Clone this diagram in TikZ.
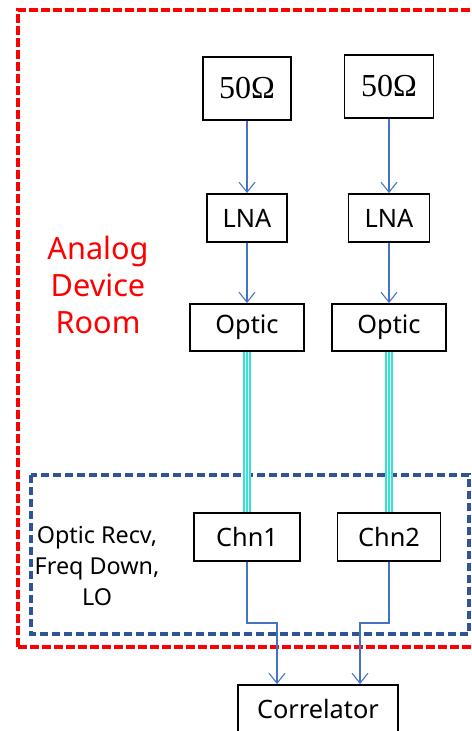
\documentclass[tikz,border=0pt]{standalone}
\usepackage{fontspec}
\setmainfont{Noto Sans}
\newfontfamily\ohmfont{Liberation Serif}
\usetikzlibrary{arrows.meta}
\definecolor{linkblue}{HTML}{4472C4}
\definecolor{roomred}{HTML}{FF0000}
\definecolor{recvblue}{HTML}{2F5597}
\definecolor{fibrecyan}{HTML}{33E3D6}
\begin{document}
\begin{tikzpicture}[x=0.75pt,y=-0.75pt,
    blk/.style={draw=black,line width=1.4pt,inner sep=0pt,font=\fontsize{19}{23}\selectfont},
    sig/.style={draw=linkblue,line width=0.8pt,-{Straight Barb[length=7.5pt,width=12pt,line width=0.8pt]}},
    fibreline/.style={preaction={draw=fibrecyan,line width=5.6pt},draw=white,line width=0.9pt,double=fibrecyan,double distance=1.4pt},
    tag/.style={align=center}]
  \useasboundingbox (0,0) rectangle (471,731);
  % rooms
  \draw[roomred,line width=2.4pt,dash pattern=on 6.5pt off 2.5pt] (18,647) -- (18,10) -- (480,10);
  \draw[roomred,line width=2.4pt,dash pattern=on 6.5pt off 2.5pt] (18,647) -- (480,647);
  \draw[recvblue,line width=2.3pt,dash pattern=on 6pt off 3pt] (31,475) rectangle (469,634);
  \node[tag,text=roomred,font=\fontsize{23}{28}\selectfont] (room) at (98,285) {Analog\\Device\\Room};
  \node[tag,font=\fontsize{17.5}{23.5}\selectfont] (recv) at (97,566) {Optic Recv,\\Freq Down,\\LO};
  % chain 1
  \node[blk,minimum width=66pt,minimum height=47.25pt,font=\fontsize{24}{28}\ohmfont] (r1) at (247,88.5) {50Ω};
  \node[blk,minimum width=60pt,minimum height=36pt] (l1) at (247,218) {LNA};
  \node[blk,minimum width=85.5pt,minimum height=35.25pt] (o1) at (247,327.5) {Optic};
  \node[blk,minimum width=79.5pt,minimum height=36pt] (c1) at (247,537) {Chn1};
  % chain 2
  \node[blk,minimum width=66.75pt,minimum height=47.25pt,font=\fontsize{24}{28}\ohmfont] (r2) at (389,86.5) {50Ω};
  \node[blk,minimum width=60.75pt,minimum height=36pt] (l2) at (389,218) {LNA};
  \node[blk,minimum width=85.5pt,minimum height=35.25pt] (o2) at (389,327.5) {Optic};
  \node[blk,minimum width=77.25pt,minimum height=36pt] (c2) at (389,537) {Chn2};
  \node[blk,minimum width=120pt,minimum height=36pt] (corr) at (318,709) {Correlator};
  % links
  \draw[sig] (r1) -- (l1);
  \draw[sig] (l1) -- (o1);
  \draw[sig] (r2) -- (l2);
  \draw[sig] (l2) -- (o2);
  \draw[fibreline] (o1) -- (c1);
  \draw[fibreline] (o2) -- (c2);
  \coordinate (k1) at (277,623);
  \coordinate (k2) at (360,623);
  \draw[sig] (c1.south) |- (k1) -- (k1 |- corr.north);
  \draw[sig] (c2.south) |- (k2) -- (k2 |- corr.north);
\end{tikzpicture}
\end{document}
